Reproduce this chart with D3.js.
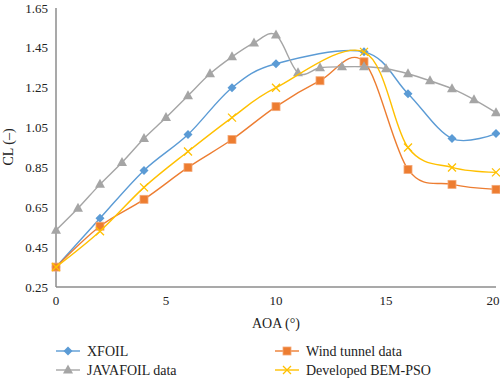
<!DOCTYPE html>
<html>
<head>
<meta charset="utf-8">
<script src="https://cdn.jsdelivr.net/npm/d3@7"></script>
<style>
  body { margin: 0; background: #fff; }
</style>
</head>
<body>
<div class="chart"></div>
<script>
// data
var aoaAll = [0,1,2,3,4,5,6,7,8,9,10,11,12,13,14,15,16,17,18,19,20];
var aoaEven = [0,2,4,6,8,10,12,14,16,18,20];
var aoaNo12 = [0,2,4,6,8,10,14,16,18,20];

var xfoilCL = [0.35,0.595,0.835,1.015,1.25,1.37,1.43,1.22,0.995,1.02];
var windCL = [0.35,0.555,0.69,0.85,0.99,1.155,1.285,1.38,0.84,0.765,0.74];
var javaCL = [0.535,0.645,0.765,0.875,0.995,1.10,1.21,1.32,1.405,1.475,1.515,1.325,1.35,1.355,1.355,1.345,1.32,1.285,1.245,1.19,1.125];
var bemCL = [0.35,0.53,0.75,0.93,1.10,1.25,1.43,0.95,0.85,0.825];

var xTicks = [0,5,10,15,20];
var yTicks = [0.25,0.45,0.65,0.85,1.05,1.25,1.45,1.65];

var series = [
  {name: "XFOIL", x: aoaNo12, y: xfoilCL, color: "#5B9BD5", marker: "diamond"},
  {name: "Wind tunnel data", x: aoaEven, y: windCL, color: "#ED7D31", marker: "square"},
  {name: "JAVAFOIL data", x: aoaAll, y: javaCL, color: "#A5A5A5", marker: "triangle"},
  {name: "Developed BEM-PSO", x: aoaNo12, y: bemCL, color: "#FFC000", marker: "cross"}
];

var width = 500, height = 380;
var font = "'Liberation Serif', 'DejaVu Serif', serif";
var svg = d3.select(".chart").append("svg").attr("width", width).attr("height", height)
            .attr("font-family", font);

var x = d3.scaleLinear().domain([0, 20]).range([56, 496]);
var y = d3.scaleLinear().domain([0.25, 1.65]).range([287, 8]);

// axes
svg.append("line").attr("x1", 56).attr("x2", 56).attr("y1", 8).attr("y2", 287)
   .attr("stroke", "#8c8c8c").attr("stroke-width", 1.5);
svg.append("line").attr("x1", 56).attr("x2", 496).attr("y1", 287).attr("y2", 287)
   .attr("stroke", "#8c8c8c").attr("stroke-width", 1.5);

svg.selectAll(".ytick").data(yTicks).enter().append("text")
   .attr("x", 48).attr("y", function(d){ return y(d) + 4.5; })
   .attr("text-anchor", "end").attr("font-size", 13).attr("font-family", font).attr("fill", "#222")
   .text(function(d){ return d.toFixed(2); });

svg.selectAll(".xtick").data(xTicks).enter().append("text")
   .attr("x", function(d){ return Math.min(x(d), 493); }).attr("y", 305)
   .attr("text-anchor", "middle").attr("font-size", 13).attr("font-family", font).attr("fill", "#222")
   .text(function(d){ return d; });

svg.append("text").attr("x", 276).attr("y", 328).attr("text-anchor", "middle")
   .attr("font-size", 14).attr("font-family", font).attr("fill", "#222").text("AOA (°)");
svg.append("text").attr("transform", "translate(13,147) rotate(-90)")
   .attr("text-anchor", "middle").attr("font-size", 14).attr("font-family", font).attr("fill", "#222")
   .text("CL (–)");

// markers
function drawMarker(g, type, cx, cy, color) {
  if (type == "diamond") {
    g.append("path").attr("d", "M" + cx + "," + (cy-4.5) + "L" + (cx+4.5) + "," + cy + "L" + cx + "," + (cy+4.5) + "L" + (cx-4.5) + "," + cy + "Z")
     .attr("fill", color);
  } else if (type == "square") {
    g.append("rect").attr("x", cx-4).attr("y", cy-4).attr("width", 8).attr("height", 8)
     .attr("fill", color).attr("stroke", "#f4a877").attr("stroke-width", 0.8);
  } else if (type == "triangle") {
    g.append("path").attr("d", "M" + cx + "," + (cy-5.5) + "L" + (cx+5) + "," + (cy+3.5) + "L" + (cx-5) + "," + (cy+3.5) + "Z")
     .attr("fill", color);
  } else {
    g.append("path").attr("d", "M" + (cx-4) + "," + (cy-4) + "L" + (cx+4) + "," + (cy+4) + "M" + (cx+4) + "," + (cy-4) + "L" + (cx-4) + "," + (cy+4))
     .attr("stroke", color).attr("stroke-width", 1.3).attr("fill", "none");
  }
}

var line = d3.line().curve(d3.curveCardinal.tension(0));

series.forEach(function(s) {
  var pts = s.x.map(function(a, i){ return [x(a), y(s.y[i])]; });
  var g = svg.append("g");
  g.append("path").attr("d", line(pts)).attr("fill", "none")
   .attr("stroke", s.color).attr("stroke-width", 1.4);
  pts.forEach(function(p){ drawMarker(g, s.marker, p[0], p[1], s.color); });
});

// legend
var legendPos = [[56, 351], [275, 351], [56, 370], [275, 370]];
series.forEach(function(s, i) {
  var lx = legendPos[i][0], ly = legendPos[i][1];
  var g = svg.append("g");
  g.append("line").attr("x1", lx).attr("x2", lx + 24).attr("y1", ly).attr("y2", ly)
   .attr("stroke", s.color).attr("stroke-width", 1.4);
  drawMarker(g, s.marker, lx + 12, ly, s.color);
  g.append("text").attr("x", lx + 31).attr("y", ly + 4.5).attr("font-size", 14)
   .attr("font-family", font).attr("fill", "#222").text(s.name);
});
</script>
</body>
</html>
